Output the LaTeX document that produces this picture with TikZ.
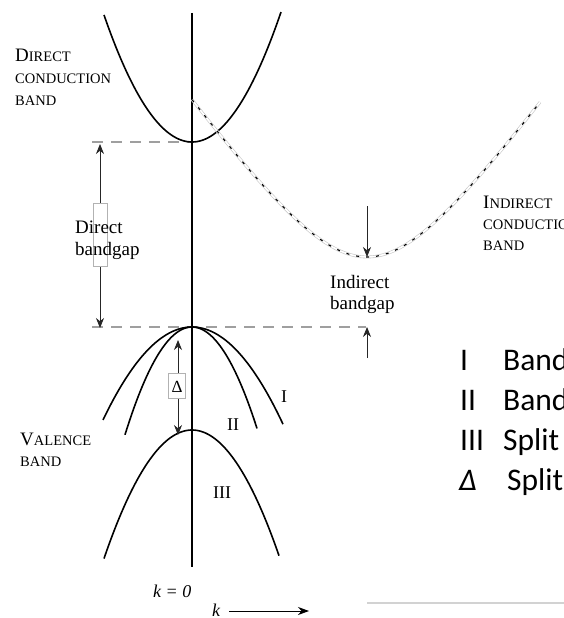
\documentclass[tikz,border=0pt]{standalone}
\usepackage{fontspec}
\setmainfont{Liberation Serif}
\newfontfamily\legendfont{Carlito}
\usetikzlibrary{arrows.meta}
\newcommand{\myscbig}[2]{{\fontsize{19}{22}\selectfont #1}{\fontsize{14.5}{22}\selectfont #2}}
\newcommand{\myscsmall}[1]{{\fontsize{14.5}{22}\selectfont #1}}
\begin{document}
\begin{tikzpicture}[x=1pt,y=-1pt,
  >={Stealth[length=10pt,width=8pt]},
  band/.style={line width=1.6pt, black},
  axisline/.style={line width=1.3pt, black},
  guide/.style={gray!75, line width=1.2pt, dash pattern=on 11pt off 8pt},
  gaparrow/.style={line width=0.8pt, black!85},
  lbl/.style={inner sep=0pt, anchor=base west, font=\fontsize{19}{22}\selectfont},
  sclbl/.style={inner sep=0pt, anchor=base west},
  roman/.style={inner sep=0pt, anchor=base west, font=\fontsize{18}{20}\selectfont},
  legend/.style={inner sep=0pt, anchor=base west, font=\legendfont\fontsize{31.5}{38}\selectfont},
  labbox/.style={draw=gray!60, fill=white, line width=0.5pt}
]
\useasboundingbox (0,0) rectangle (564,618);
\clip (0,0) rectangle (564,618);

% k axis
\coordinate (axtop) at (192,13);
\coordinate (axbot) at (192,567);
\draw[axisline] (axtop) -- (axbot);

% guide lines
\coordinate (g1a) at (92,142);
\coordinate (g1b) at (192,142);
\coordinate (g2a) at (92,327);
\coordinate (g2b) at (366,327);
\draw[guide] (g1a) -- (g1b);
\draw[guide] (g2a) -- (g2b);

% direct conduction band
\draw[band] plot[domain=104:281, samples=80, smooth] (\x, {142-0.0164*(\x-192)^2});

% indirect conduction band (dashed, outlined)
\draw[gray!45, line width=2.8pt] plot[domain=192:540, samples=90, smooth] (\x, {257-112*(sqrt(1+((\x-367)/80)^2)-1)});
\draw[white, line width=1.6pt] plot[domain=192:540, samples=90, smooth] (\x, {257-112*(sqrt(1+((\x-367)/80)^2)-1)});
\draw[black, line width=1.1pt, dash pattern=on 3pt off 7pt] plot[domain=192:540, samples=90, smooth] (\x, {257-112*(sqrt(1+((\x-367)/80)^2)-1)});

% valence bands
\draw[band] plot[domain=103:283, samples=80, smooth] (\x, {327+0.01174*(\x-192)^2});
\draw[band] plot[domain=125:257, samples=80, smooth] (\x, {327+0.0240*(\x-192)^2});
\draw[band] plot[domain=104:279, samples=80, smooth] (\x, {430+0.0166*(\x-192)^2});

% direct bandgap arrow
\coordinate (dbtop) at (100,144);
\coordinate (dbbot) at (100,328);
\draw[gaparrow, <->] (dbbot) -- (dbtop);
\node[labbox, minimum width=14pt, minimum height=63pt, inner sep=0pt] (dbbox) at (100,234.5) {};
\node[lbl] (db1) at (75,233) {Direct};
\node[lbl] (db2) at (75,255) {bandgap};

% indirect bandgap arrows
\coordinate (ibtop) at (367,206);
\coordinate (ibmin) at (367,257);
\draw[gaparrow, ->] (ibtop) -- (ibmin);
\coordinate (ivtop) at (367,327);
\coordinate (ivbot) at (367,358);
\draw[gaparrow, ->] (ivbot) -- (ivtop);
\node[lbl] (ib1) at (330,288) {Indirect};
\node[lbl] (ib2) at (330,309) {bandgap};

% split-off arrow
\coordinate (dtop) at (178,340);
\coordinate (dbot) at (178,435);
\draw[gaparrow, <->] (dbot) -- (dtop);
\node[labbox, minimum width=17pt, minimum height=25pt, inner sep=0pt] (dbox) at (177,385.5) {};
\node[inner sep=0pt, font=\fontsize{17}{20}\selectfont] (dlab) at (177,387) {Δ};

% band labels
\node[roman] (lI) at (281,402) {I};
\node[roman] (lII) at (227,430) {II};
\node[roman] (lIII) at (213,498) {III};

% region labels
\node[sclbl] (dc1) at (15,62) {\myscbig{D}{IRECT}};
\node[sclbl] (dc2) at (15,83) {\myscsmall{CONDUCTION}};
\node[sclbl] (dc3) at (15,105) {\myscsmall{BAND}};
\node[sclbl] (ic1) at (483,208) {\myscbig{I}{NDIRECT}};
\node[sclbl] (ic2) at (483,229) {\myscsmall{CONDUCTION}};
\node[sclbl] (ic3) at (483,250) {\myscsmall{BAND}};
\node[sclbl] (vb1) at (20,445) {\myscbig{V}{ALENCE}};
\node[sclbl] (vb2) at (20,466) {\myscsmall{BAND}};

% k labels
\node[inner sep=0pt, anchor=base west, font=\itshape\fontsize{18}{20}\selectfont] (k0) at (153,597) {k = 0};
\node[inner sep=0pt, anchor=base west, font=\itshape\fontsize{18}{20}\selectfont] (kl) at (212,616) {k};
\coordinate (ka) at (229,611);
\coordinate (kb) at (309,611);
\draw[line width=0.8pt, -{Stealth[length=11pt,width=8pt]}] (ka) -- (kb);

% grey rule
\coordinate (ra) at (367,603);
\coordinate (rb) at (564,603);
\draw[gray!35, line width=2pt] (ra) -- (rb);

% legend
\node[legend] (L1a) at (460,370) {I};
\node[legend] (L1b) at (503,370) {Band};
\node[legend] (L2a) at (460,410) {II};
\node[legend] (L2b) at (503,410) {Band};
\node[legend] (L3a) at (460,450) {III};
\node[legend] (L3b) at (503,450) {Split};
\node[legend] (L4a) at (459,490) {\itshape Δ};
\node[legend] (L4b) at (507,490) {Split};
\end{tikzpicture}
\end{document}
